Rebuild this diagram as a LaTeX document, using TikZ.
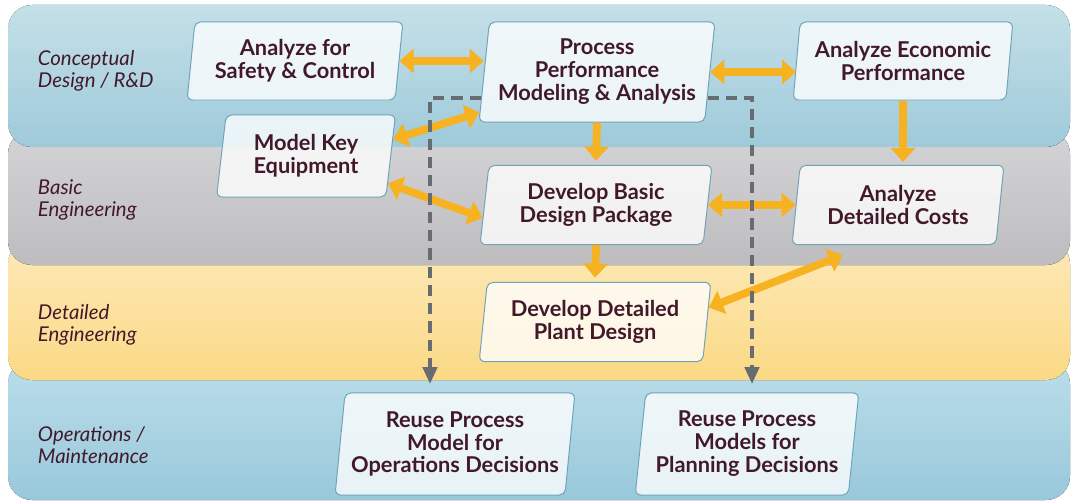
\documentclass[tikz,border=0pt]{standalone}
\usepackage{fontspec}
\setmainfont{Lato}
\usetikzlibrary{shapes.geometric,arrows.meta,calc}
\definecolor{textmaroon}{HTML}{42192A}
\definecolor{boxedge}{HTML}{6FA3B8}
\definecolor{flowyellow}{HTML}{F6B221}
\definecolor{dashgray}{HTML}{676C70}
\definecolor{opstop}{HTML}{BCDEEA}
\definecolor{opsbottom}{HTML}{98C8DB}
\definecolor{detailtop}{HTML}{FDE9B8}
\definecolor{detailbottom}{HTML}{FBD985}
\definecolor{basictop}{HTML}{D4D4D6}
\definecolor{basicbottom}{HTML}{BDBDC0}
\definecolor{concepttop}{HTML}{C4E0E8}
\definecolor{conceptbottom}{HTML}{9FCADA}
\newcommand{\band}[4]
{
\fill[top color=#3, bottom color=#4, rounded corners=0.6cm] (8,#1) rectangle (1070,#2);
}
\tikzset{
  task/.style={trapezium, trapezium left angle=82, trapezium right angle=98,
    trapezium stretches=true, draw=boxedge, line width=0.7pt, rounded corners=4pt,
    fill=white, fill opacity=0.78, text opacity=1, text=textmaroon, align=center,
    font=\bfseries\fontsize{15.5}{16.3}\selectfont, inner sep=1pt},
  phase/.style={text=textmaroon, anchor=west, align=left,
    font=\itshape\fontsize{14.5}{15.8}\selectfont},
  flow/.style={draw=flowyellow, line width=5.5pt,
    {Triangle[width=17pt,length=10pt]}-{Triangle[width=17pt,length=10pt]}},
  flowdown/.style={draw=flowyellow, line width=5.5pt, -{Triangle[width=17pt,length=10pt]}},
  reuse/.style={draw=dashgray, line width=2.8pt, dash pattern=on 8pt off 5pt,
    -{Triangle[width=10pt,length=12pt]}}
}

\begin{document}
\begin{tikzpicture}[x=0.025cm, y=-0.025cm]
  \useasboundingbox (0,0) rectangle (1075,504);

  % stage bands, lowest first
  \band{360}{500}{opstop}{opsbottom}
  \band{240}{380}{detailtop}{detailbottom}
  \band{130}{265}{basictop}{basicbottom}
  \band{5}{147}{concepttop}{conceptbottom}

  \node[phase] (conceptual) at (33,71) {Conceptual\\Design / R\&D};
  \node[phase] (basic) at (33,200) {Basic\\Engineering};
  \node[phase] (detailed) at (33,325) {Detailed\\Engineering};
  \node[phase] (operations) at (33,445) {Operations /\\Maintenance};

  \node[task, minimum width=5.4cm, minimum height=1.95cm] (safety) at (295,61) {Analyze for\\Safety \& Control};
  \node[task, minimum width=5.9cm, minimum height=2.5cm] (process) at (597,72) {Process\\Performance\\Modeling \& Analysis};
  \node[task, minimum width=5.5cm, minimum height=1.95cm] (economic) at (903,61) {Analyze Economic\\Performance};

  \node[task, minimum width=4.5cm, minimum height=2.05cm] (equipment) at (306,156) {Model Key\\Equipment};
  \node[task, minimum width=5.8cm, minimum height=1.98cm] (basicdesign) at (596,205) {Develop Basic\\Design Package};
  \node[task, minimum width=5.3cm, minimum height=1.98cm] (costs) at (898,205) {Analyze\\Detailed Costs};

  \node[task, minimum width=5.8cm, minimum height=1.98cm] (plant) at (595,322) {Develop Detailed\\Plant Design};

  \node[task, minimum width=6.0cm, minimum height=2.55cm] (opsreuse) at (455,444) {Reuse Process\\Model for\\Operations Decisions};
  \node[task, minimum width=5.6cm, minimum height=2.55cm] (planreuse) at (747,444) {Reuse Process\\Models for\\Planning Decisions};

  % yellow flows
  \draw[flow] (safety.east) -- (safety.east -| process.west);
  \draw[flow] (process.east) -- (process.east -| economic.west);
  \draw[flow] (basicdesign.east) -- (basicdesign.east -| costs.west);
  \draw[flow] ($(equipment.top right corner)!0.3!(equipment.bottom right corner)$)
    -- ($(process.top left corner)!0.9!(process.bottom left corner)$);
  \draw[flow] ($(equipment.top right corner)!0.83!(equipment.bottom right corner)$)
    -- ($(basicdesign.top left corner)!0.66!(basicdesign.bottom left corner)$);
  \draw[flow] ($(plant.top right corner)!0.32!(plant.bottom right corner)$)
    -- ($(costs.bottom left corner)!0.25!(costs.bottom right corner)+(0,10)$);
  \draw[flowdown] (process.south) -- ([yshift=3pt]basicdesign.north);
  \draw[flowdown] (economic.south) -- ([yshift=2pt]economic.south |- costs.north);
  \draw[flowdown] (basicdesign.south) -- ([yshift=3pt]plant.north);

  % dashed reuse paths
  \draw[reuse] ($(process.top left corner)!0.76!(process.bottom left corner)$)
    -| ([yshift=6pt]opsreuse.north -| 430,0);
  \draw[reuse] ($(process.top right corner)!0.76!(process.bottom right corner)$)
    -| ([yshift=6pt]planreuse.north -| 752,0);
\end{tikzpicture}
\end{document}
